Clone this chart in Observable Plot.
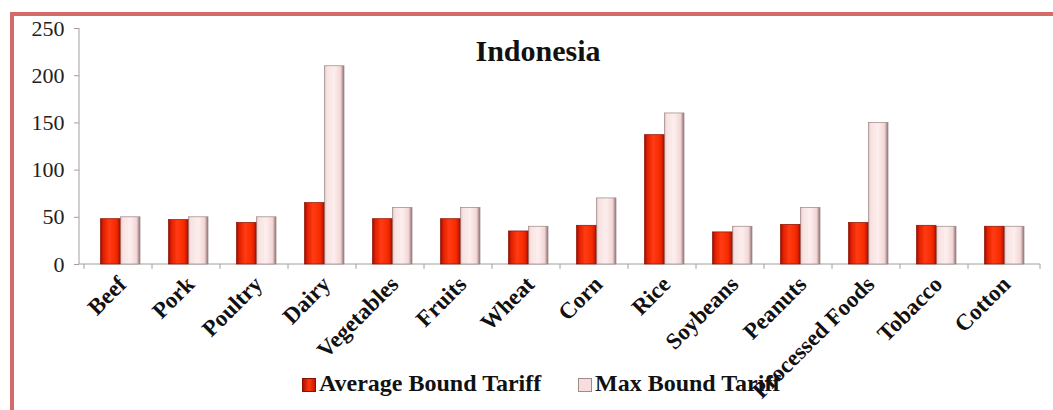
<!DOCTYPE html>
<html>
<head>
<meta charset="utf-8">
<script src="https://cdn.jsdelivr.net/npm/d3@7"></script>
<script src="https://cdn.jsdelivr.net/npm/@observablehq/plot@0.6"></script>
<style>
  html, body { margin: 0; padding: 0; background: #fff; width: 1053px; height: 410px; overflow: hidden; }
  #wrap { position: relative; width: 1053px; height: 410px; overflow: hidden; }
  #frame { position: absolute; left: 10px; top: 12px; width: 2000px; height: 2000px; border: 4px solid #d56a6a; box-sizing: border-box; }
  #chart { position: absolute; left: 0; top: 0; }
  #title { position: absolute; left: 0; width: 1076px; top: 36px; text-align: center; font: bold 30px "Liberation Serif", serif; line-height: 1; color: #111; }
  .leg { position: absolute; top: 371px; display: flex; align-items: center; font: bold 24px "Liberation Serif", serif; line-height: 1; color: #111; white-space: nowrap; }
  .sw { width: 14px; height: 14px; box-sizing: border-box; margin-right: 3px; margin-top: 3px; }
</style>
</head>
<body>
<div id="wrap">
  <div id="frame"></div>
  <div id="chart"></div>
  <div id="title"></div>
  <div class="leg" id="leg1" style="left:302px"><div class="sw" style="background:linear-gradient(90deg,#b01000,#ff3a10,#c81800);border:1px solid #8a1000"></div><span></span></div>
  <div class="leg" id="leg2" style="left:578px"><div class="sw" style="background:#f7dede;border:1px solid #a08a8a"></div><span></span></div>
</div>
<script>
const titleText = "Indonesia";
const seriesNames = ["Average Bound Tariff", "Max Bound Tariff"];
const categories = ["Beef", "Pork", "Poultry", "Dairy", "Vegetables", "Fruits", "Wheat", "Corn", "Rice", "Soybeans", "Peanuts", "Processed Foods", "Tobacco", "Cotton"];
const avgTariff = [48, 47, 44, 65, 48, 48, 35, 41, 137, 34, 42, 44, 41, 40];
const maxTariff = [50, 50, 50, 210, 60, 60, 40, 70, 160, 40, 60, 150, 40, 40];
const yTicks = [0, 50, 100, 150, 200, 250];

const rows = categories.map((c, i) => ({category: c, avg: avgTariff[i], max: maxTariff[i]}));

document.getElementById("title").textContent = titleText;
document.querySelector("#leg1 span").textContent = seriesNames[0];
document.querySelector("#leg2 span").textContent = seriesNames[1];

function axisFrame(index, scales, values, dims) {
  const x = scales.x, y = scales.y;
  const g = d3.create("svg:g");
  const defs = g.append("defs");
  const ga = defs.append("linearGradient").attr("id", "gAvg").attr("x1", 0).attr("x2", 1).attr("y1", 0).attr("y2", 0);
  [[0, "#9e0a00"], [0.15, "#e32000"], [0.45, "#ff3c12"], [0.8, "#f52a00"], [1, "#b81200"]].forEach(([o, c]) => ga.append("stop").attr("offset", o).attr("stop-color", c));
  const gm = defs.append("linearGradient").attr("id", "gMax").attr("x1", 0).attr("x2", 1).attr("y1", 0).attr("y2", 0);
  [[0, "#d8c2c2"], [0.12, "#f8e2e2"], [0.5, "#fdeeee"], [0.82, "#f2d6d6"], [1, "#8f7474"]].forEach(([o, c]) => gm.append("stop").attr("offset", o).attr("stop-color", c));
  const xl = dims.marginLeft, xr = dims.width - dims.marginRight;
  const y0 = y(0), yT = y(yTicks[yTicks.length - 1]);
  g.append("line").attr("x1", xl).attr("x2", xr).attr("y1", y0).attr("y2", y0).attr("stroke", "#a0a0a0");
  g.append("line").attr("x1", xl).attr("x2", xl).attr("y1", yT).attr("y2", y0).attr("stroke", "#a0a0a0");
  const bounds = categories.map(c => x(c)).concat([xr]);
  g.selectAll("line.tk").data(bounds).join("line").attr("class", "tk")
    .attr("x1", d => d).attr("x2", d => d).attr("y1", y0).attr("y2", y0 + 5).attr("stroke", "#a0a0a0");
  return g.node();
}

const plot = Plot.plot({
  width: 1053,
  height: 410,
  marginLeft: 79,
  marginRight: 13,
  marginTop: 28,
  marginBottom: 146,
  style: {fontFamily: "'Liberation Serif', serif", background: "transparent", color: "#111"},
  x: {domain: categories, padding: 0, label: null},
  y: {domain: [0, 250], label: null},
  marks: [
    axisFrame,
    Plot.axisY({ticks: yTicks, tickSize: 5, tickPadding: 10, fontSize: 22, fontFamily: "Liberation Serif", stroke: "#a0a0a0", fill: "#222", label: null}),
    Plot.axisX({tickSize: 0, tickRotate: -45, tickPadding: 16, dx: 4, fontSize: 23, fontFamily: "Liberation Serif", fontWeight: "bold", fill: "#111", label: null}),
    Plot.barY(rows, {x: "category", y: "max", fill: "url(#gMax)", stroke: "#9c8585", strokeWidth: 0.7, insetLeft: 36.5, insetRight: 12}),
    Plot.barY(rows, {x: "category", y: "avg", fill: "url(#gAvg)", stroke: "#8a1000", strokeWidth: 0.7, insetLeft: 16.5, insetRight: 32})
  ]
});
document.getElementById("chart").appendChild(plot);
</script>
</body>
</html>
